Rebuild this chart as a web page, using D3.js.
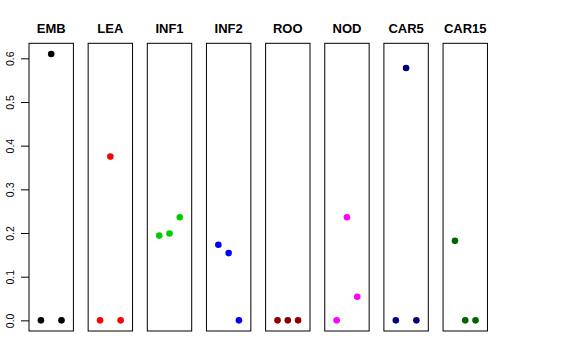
<!DOCTYPE html>
<html>
<head>
<meta charset="utf-8">
<script src="https://cdn.jsdelivr.net/npm/d3@7"></script>
<style>
  body { margin: 0; background: #fff; }
  svg { display: block; font-family: "Liberation Sans", Arial, sans-serif; }
</style>
</head>
<body>
<svg id="chart" width="576" height="360"></svg>
<script>
// panel names and their colours
const groups = ['EMB', 'LEA', 'INF1', 'INF2', 'ROO', 'NOD', 'CAR5', 'CAR15'];
const colors = ['#000000', '#ff0000', '#00cd00', '#0000ff', '#8b0000', '#ff00ff', '#000080', '#006400'];

// three values per panel, plotted at x = 1, 2, 3
const EMB = [0, 0.610, 0];
const LEA = [0, 0.375, 0];
const INF1 = [0.194, 0.199, 0.236];
const INF2 = [0.173, 0.154, 0];
const ROO = [0, 0, 0];
const NOD = [0, 0.236, 0.054];
const CAR5 = [0, 0.578, 0];
const CAR15 = [0.182, 0, 0];
const values = [EMB, LEA, INF1, INF2, ROO, NOD, CAR5, CAR15];

const yTicks = [0, 0.1, 0.2, 0.3, 0.4, 0.5, 0.6];

const svg = d3.select('#chart');

const plotTop = 43.3, plotBottom = 331;
const firstLeft = 29, pitch = 59.15, panelW = 44.4;

// R style ylim with 4% padding
const yMax = d3.max(values.flat());
const pad = yMax * 0.04;
const y = d3.scaleLinear().domain([-pad, yMax + pad]).range([plotBottom, plotTop]);
const x = d3.scaleLinear().domain([-0.16, 4.16]).range([0, panelW]);

// y axis: ticks only, no line
const yAxis = d3.axisLeft(y).tickValues(yTicks).tickSize(8).tickPadding(0)
  .tickFormat(d3.format('.1f'));
const ax = svg.append('g')
  .attr('transform', 'translate(' + firstLeft + ',0)')
  .call(yAxis);
ax.select('.domain').remove();
ax.selectAll('line').attr('stroke', '#000');
ax.selectAll('.tick text')
  .attr('font-size', 10.5)
  .attr('fill', '#000')
  .attr('x', 0).attr('y', 0).attr('dy', '0.35em')
  .attr('text-anchor', 'middle')
  .attr('transform', 'translate(' + (10 - firstLeft) + ',0) rotate(-90)');

groups.forEach((name, i) => {
  const left = firstLeft + i * pitch;
  const g = svg.append('g').attr('transform', 'translate(' + left + ',0)');

  g.append('rect')
    .attr('x', 0).attr('y', plotTop)
    .attr('width', panelW).attr('height', plotBottom - plotTop)
    .attr('fill', 'none').attr('stroke', '#000').attr('stroke-width', 1);

  g.append('text')
    .attr('x', panelW / 2).attr('y', 33)
    .attr('text-anchor', 'middle')
    .attr('font-size', 13).attr('font-weight', 'bold')
    .text(name);

  g.selectAll('circle')
    .data(values[i])
    .enter().append('circle')
    .attr('cx', (d, j) => x(j + 1))
    .attr('cy', d => y(d))
    .attr('r', 3.3)
    .attr('fill', colors[i]);
});
</script>
</body>
</html>
